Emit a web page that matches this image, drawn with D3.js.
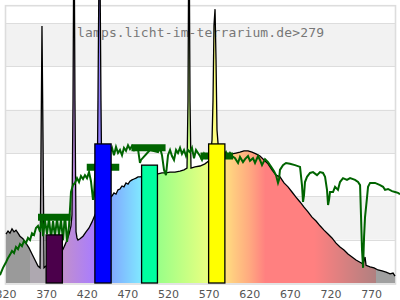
<!DOCTYPE html>
<html><head><meta charset="utf-8">
<script src="https://cdn.jsdelivr.net/npm/d3@7/dist/d3.min.js"></script>
<style>body{margin:0;background:#fff}svg{display:block}</style>
</head><body><svg id="c" width="400" height="300"></svg>
<script>
// ---- data ----
const xTicks = [320,370,420,470,520,570,620,670,720,770];
const title = "lamps.licht-im-terrarium.de>279";

// lamp spectrum (relative units)
const specNm = [320.6,323.1,325.5,328.0,330.5,332.9,335.4,337.8,341.5,345.2,348.9,352.6,356.3,360.0,362.5,363.7,364.9,366.2,367.4,369.8,374.8,380.9,387.1,390.8,393.2,395.7,398.2,400.6,401.8,403.1,404.3,405.5,406.8,408.0,409.2,411.7,415.4,419.1,422.8,426.5,428.9,432.6,433.8,435.7,437.5,438.8,443.7,448.6,451.1,453.5,456.0,458.5,460.9,463.4,465.8,468.3,470.8,473.2,475.7,478.2,480.6,483.1,485.5,497.8,507.7,512.6,517.5,522.5,528.6,534.8,539.7,543.4,544.6,545.8,547.1,548.3,553.2,559.4,565.5,571.7,574.2,575.4,576.6,577.9,579.1,580.3,582.8,588.9,593.9,598.8,603.7,608.6,613.5,618.5,623.4,628.3,633.2,638.2,643.1,648.0,652.9,657.8,662.8,667.7,672.6,677.5,682.5,687.4,692.3,697.2,702.2,707.1,712.0,716.9,721.8,726.8,731.7,736.6,741.5,746.5,751.4,756.3,760.1,762.5,763.8,768.7,773.6,778.5,783.5,788.4,793.3,797.0,799.4];
const specVal = [1.13,1.20,1.15,1.25,1.18,1.22,1.15,1.08,1.02,0.92,0.81,0.67,0.53,0.39,0.35,3.07,5.93,3.30,0.35,0.39,0.48,0.58,0.67,0.78,0.88,0.99,1.13,1.32,1.57,4.2,8.8,4.2,1.18,1.04,0.99,1.02,1.08,1.18,1.27,1.41,1.52,1.68,4.2,8.8,4.2,1.80,1.89,1.98,2.01,2.08,2.05,2.15,2.17,2.24,2.22,2.31,2.28,2.35,2.38,2.40,2.42,2.45,2.45,2.49,2.52,2.54,2.54,2.56,2.56,2.58,2.61,2.65,4.2,8.8,4.2,2.65,2.68,2.70,2.75,2.84,3.30,4.22,5.95,6.32,5.15,3.53,2.93,2.93,2.95,2.98,3.00,3.02,3.05,3.05,3.02,2.98,2.93,2.84,2.75,2.61,2.49,2.45,2.31,2.22,2.10,1.98,1.87,1.75,1.64,1.52,1.43,1.32,1.22,1.13,1.04,0.92,0.83,0.76,0.67,0.60,0.53,0.48,0.44,0.60,0.41,0.37,0.35,0.30,0.28,0.25,0.21,0.23,0.16];

// daylight reference spectrum
const sunNm = [313.2,316.9,320.6,323.1,325.5,328.0,330.5,332.9,335.4,337.8,340.3,342.8,345.2,347.7,350.2,352.6,355.1,357.5,360.0,362.5,364.9,366.2,368.6,371.1,373.5,376.0,378.5,380.9,383.4,385.8,388.3,390.8,393.2,395.7,398.2,400.6,403.1,405.5,408.0,410.5,412.9,415.4,417.8,420.3,422.8,425.2,427.7,428.9,431.4,433.8,446.2,448.6,451.1,453.5,456.0,458.5,460.9,463.4,465.8,468.3,470.8,473.2,475.7,478.2,480.6,483.1,485.5,486.8,497.8,507.7,510.2,512.6,515.1,517.5,520.0,522.5,524.9,527.4,529.9,532.3,534.8,537.2,539.7,542.2,544.6,547.1,549.5,552.0,554.5,556.9,559.4,561.8,564.3,566.8,589.0,591.4,593.9,596.3,598.8,602.5,606.2,608.6,612.3,614.8,618.5,620.9,624.6,627.1,630.8,633.2,635.7,639.4,643.1,645.5,648.0,650.5,652.9,655.4,656.6,657.8,661.5,665.2,670.1,676.3,682.5,684.9,686.2,687.4,688.6,691.1,694.8,698.5,703.4,707.1,710.8,713.3,715.7,717.0,718.2,719.4,723.1,725.6,729.2,731.7,735.4,740.3,744.1,750.2,753.9,756.4,757.6,758.8,760.1,761.3,762.5,765.0,766.2,768.7,774.8,781.0,784.7,787.1,790.8,795.7,799.4,803.1,805.6];
const sunVal = [0.18,0.35,0.48,0.58,0.65,0.74,0.69,0.83,0.78,0.90,0.85,0.97,0.92,1.04,0.99,1.15,1.11,1.27,1.32,1.18,1.55,1.08,1.45,1.13,1.50,1.04,1.43,1.08,1.48,1.11,1.45,0.99,1.59,0.95,1.32,2.10,2.26,2.31,2.42,2.33,2.47,2.40,2.49,2.42,2.56,2.35,1.92,2.03,2.84,3.02,3.07,3.02,3.12,2.95,3.14,3.00,3.07,2.95,3.12,3.05,3.18,3.09,3.16,3.07,3.14,3.09,2.77,2.84,3.07,3.02,3.12,2.95,2.61,2.49,2.95,3.07,2.93,2.84,3.07,3.00,3.12,2.98,3.07,2.93,3.07,3.02,3.12,2.88,3.07,3.00,2.93,2.84,2.98,2.88,2.95,3.02,2.91,3.00,2.93,2.88,2.77,2.91,2.79,2.86,2.93,2.82,2.88,2.77,2.93,2.84,2.72,2.86,2.79,2.72,2.65,2.58,2.49,2.31,2.38,2.61,2.72,2.77,2.75,2.72,2.68,2.26,1.87,2.03,2.33,2.45,2.54,2.56,2.49,2.56,2.54,2.45,2.15,1.80,1.92,2.10,2.10,2.22,2.15,2.33,2.42,2.38,2.42,2.38,2.33,2.26,1.52,0.76,0.35,1.06,1.52,1.98,2.22,2.31,2.31,2.26,2.22,2.15,2.17,2.12,2.10,2.08,2.05];

// lamp band bars
const barStart = [370,430,487.5,570];
const barEnd   = [390,450,507,590];
const barVal   = [1.11,3.21,2.72,3.21];
// daylight band references
const refStart = [360,420,475,560];
const refEnd   = [400,460,517,600];
const refVal   = [1.52,2.67,3.12,2.93];

// palettes
const barColors = ["#4b004b","#0000ff","#00ffa0","#ffff00"];
const gradNm    = [320,349.9,350,369.9,370,390,430,440,450,487,497,507,568,578,590,600,620,640,700,776,776.1,800];
const gradColor = ["#9a9a9a","#9a9a9a","#aea8b0","#aea8b0","#b48cc8","#c290cc","#a87cff","#8080ff","#80a8ff","#80e8ff","#80ffc0","#98ff88","#e8ff80","#ffff80","#ffe080","#ffcc80","#ffaa80","#ff8080","#ff8080","#b08080","#a0a0a0","#a0a0a0"];

// ---- chart ----
const svg = d3.select("#c");
const x = d3.scaleLinear().domain([320,800]).range([5.5,395.5]);
const y = d3.scaleLinear().domain([0,6.4]).range([283,5.7]);

// bands
const bands = [1,3,5];
svg.selectAll("rect.band").data(bands).join("rect")
  .attr("x", x(320)).attr("width", x(800)-x(320))
  .attr("y", d=>y(d+1)).attr("height", d=>y(d)-y(d+1))
  .attr("fill","#f2f2f2");
svg.selectAll("line.grid").data([1,2,3,4,5,6]).join("line")
  .attr("x1", x(320)).attr("x2", x(800))
  .attr("y1", d=>Math.round(y(d))+0.5).attr("y2", d=>Math.round(y(d))+0.5)
  .attr("stroke","#dddddd").attr("stroke-width",1.2);
svg.append("rect").attr("x", x(320)).attr("y", y(6.4))
  .attr("width", x(800)-x(320)).attr("height", y(0)-y(6.4)+1)
  .attr("fill","none").attr("stroke","#dddddd").attr("stroke-width",1.6);

// title
svg.append("text").attr("x",77).attr("y",36.5)
  .attr("font-family","DejaVu Sans Mono, monospace").attr("font-size",13)
  .attr("textLength",247).attr("lengthAdjust","spacing")
  .attr("fill","#777").text(title);

// gradient
const defs = svg.append("defs");
const grad = defs.append("linearGradient").attr("id","spec")
  .attr("gradientUnits","userSpaceOnUse")
  .attr("x1", x(320)).attr("x2", x(800)).attr("y1",0).attr("y2",0);
gradNm.forEach((n,i)=>grad.append("stop")
  .attr("offset", (n-320)/480).attr("stop-color", gradColor[i]));

const spec = specNm.map((n,i)=>[n,specVal[i]]);
svg.append("path").datum(spec)
  .attr("d", d3.area().x(d=>x(d[0])).y0(y(0)).y1(d=>y(d[1])))
  .attr("fill","url(#spec)");
svg.append("path").datum(spec)
  .attr("d", d3.line().x(d=>x(d[0])).y(d=>y(d[1])))
  .attr("fill","none").attr("stroke","#000").attr("stroke-width",1.3);

// daylight
const sun = sunNm.map((n,i)=>[n,sunVal[i]]);
svg.append("path").datum(sun)
  .attr("d", d3.line().x(d=>x(d[0])).y(d=>y(d[1])))
  .attr("fill","none").attr("stroke","#006400").attr("stroke-width",2);

// reference bars
svg.selectAll("line.ref").data(refVal).join("line")
  .attr("x1",(d,i)=>x(refStart[i])).attr("x2",(d,i)=>x(refEnd[i]))
  .attr("y1",d=>y(d)).attr("y2",d=>y(d))
  .attr("stroke","#006400").attr("stroke-width",7);

// lamp bars
svg.selectAll("rect.bar").data(barVal).join("rect")
  .attr("x",(d,i)=>x(barStart[i])).attr("width",(d,i)=>x(barEnd[i])-x(barStart[i]))
  .attr("y",d=>y(d)).attr("height",d=>y(0)-y(d))
  .attr("fill",(d,i)=>barColors[i]).attr("stroke","#000").attr("stroke-width",1.3);

// axis
const ax = svg.append("g").attr("transform",`translate(0,${y(0)})`)
  .call(d3.axisBottom(x).tickValues(xTicks).tickFormat(d3.format("d")).tickSize(0).tickPadding(7));
ax.select(".domain").remove();
ax.selectAll("text").attr("font-family","DejaVu Sans, sans-serif").attr("font-size",11).attr("fill","#555");
</script></body></html>
